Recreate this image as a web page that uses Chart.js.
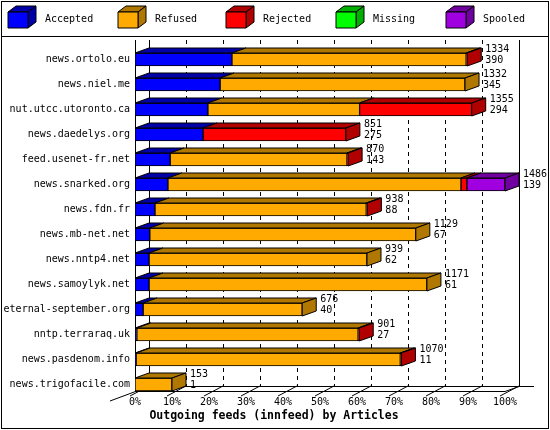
<!DOCTYPE html>
<html>
<head>
<meta charset="utf-8">
<script src="https://cdn.jsdelivr.net/npm/chart.js@4.4.1/dist/chart.umd.min.js"></script>
<style>
  html, body { margin: 0; padding: 0; background: #fff; }
  #wrap { width: 550px; height: 430px; }
</style>
</head>
<body>
<div id="wrap"><canvas id="c" width="550" height="430"></canvas></div>
<script>
// data (percent of bar width)
const hosts = ["news.ortolo.eu", "news.niel.me", "nut.utcc.utoronto.ca", "news.daedelys.org",
  "feed.usenet-fr.net", "news.snarked.org", "news.fdn.fr", "news.mb-net.net", "news.nntp4.net",
  "news.samoylyk.net", "eternal-september.org", "nntp.terraraq.uk", "news.pasdenom.info", "news.trigofacile.com"];
const accepted = [26.2, 23.0, 19.7, 18.4, 9.5, 8.9, 5.4, 4.0, 3.8, 3.8, 2.2, 0.5, 0.3, 0];
const refused  = [63.3, 66.2, 41.0, 0, 47.8, 79.2, 57.1, 71.9, 58.9, 75.1, 43.0, 59.8, 71.4, 10.0];
const rejected = [0.3, 0, 30.3, 38.6, 0.3, 1.6, 0.3, 0, 0, 0, 0, 0.3, 0.3, 0];
const missing  = [0, 0, 0, 0, 0, 0, 0, 0, 0, 0, 0, 0, 0, 0];
const spooled  = [0, 0, 0, 0, 0, 10.3, 0, 0, 0, 0, 0, 0, 0, 0];
const totalArticles = [1334, 1332, 1355, 851, 870, 1486, 938, 1129, 939, 1171, 676, 901, 1070, 153];
const secondValue   = [390, 345, 294, 275, 143, 139, 88, 67, 62, 61, 40, 27, 11, 1];
const xTicks = [0, 10, 20, 30, 40, 50, 60, 70, 80, 90, 100];

const series = [
  { label: "Accepted", data: accepted, front: "#0000ff", dark: "#0000a8" },
  { label: "Refused",  data: refused,  front: "#ffaa00", dark: "#b07800" },
  { label: "Rejected", data: rejected, front: "#ff0000", dark: "#b00000" },
  { label: "Missing",  data: missing,  front: "#00ff00", dark: "#00b000" },
  { label: "Spooled",  data: spooled,  front: "#a000e0", dark: "#7000a0" }
];

const DX = 14, DY = 5;
const FONT = "10px 'DejaVu Sans Mono', monospace";

function poly(ctx, pts, fill) {
  ctx.beginPath();
  ctx.moveTo(pts[0][0], pts[0][1]);
  for (let i = 1; i < pts.length; i++) ctx.lineTo(pts[i][0], pts[i][1]);
  ctx.closePath();
  ctx.fillStyle = fill;
  ctx.fill();
  ctx.stroke();
}

const frame = {
  id: "frame",
  beforeDatasetsDraw(chart) {
    const ctx = chart.ctx, xs = chart.scales.x;
    const x0 = xs.getPixelForValue(0), x1 = xs.getPixelForValue(100);
    const top = 40, floor = 391;
    ctx.save();
    ctx.strokeStyle = "#000";
    ctx.lineWidth = 1;
    // back grid (dashed)
    ctx.setLineDash([4, 4]);
    xTicks.slice(1, -1).forEach(v => {
      const px = Math.round(xs.getPixelForValue(v)) + DX + 0.5;
      ctx.beginPath(); ctx.moveTo(px, top); ctx.lineTo(px, floor - DY); ctx.stroke();
    });
    ctx.setLineDash([]);
    // walls
    ctx.beginPath();
    ctx.moveTo(x0 + 0.5, top); ctx.lineTo(x0 + 0.5, floor + 0.5);
    ctx.moveTo(x0 + DX + 0.5, top); ctx.lineTo(x0 + DX + 0.5, floor - DY + 0.5);
    ctx.moveTo(x1 + DX + 0.5, top); ctx.lineTo(x1 + DX + 0.5, floor - DY + 0.5);
    ctx.moveTo(x0 - 25, floor + 10); ctx.lineTo(x0 + 0.5, floor + 0.5);
    ctx.moveTo(x0, floor + 0.5); ctx.lineTo(x1, floor + 0.5);
    ctx.moveTo(x0 + DX, floor - DY + 0.5); ctx.lineTo(x1 + DX + 15, floor - DY + 0.5);
    ctx.moveTo(x1, floor + 0.5); ctx.lineTo(x1 + DX, floor - DY + 0.5);
    ctx.stroke();
    // floor ticks
    xTicks.forEach(v => {
      const px = xs.getPixelForValue(v);
      ctx.beginPath(); ctx.moveTo(px - 5, floor + 5); ctx.lineTo(px + DX, floor - DY); ctx.stroke();
    });
    ctx.restore();
  },
  afterDatasetsDraw(chart) {
    const ctx = chart.ctx, xs = chart.scales.x;
    ctx.save();
    ctx.strokeStyle = "#000";
    ctx.lineWidth = 1;
    hosts.forEach((h, i) => {
      let lastEl = null, lastSeries = null;
      series.forEach((s, di) => {
        const el = chart.getDatasetMeta(di).data[i];
        if (!s.data[i]) return;
        const l = Math.min(el.x, el.base), r = Math.max(el.x, el.base), t = el.y - el.height / 2;
        poly(ctx, [[l, t], [r, t], [r + DX, t - DY], [l + DX, t - DY]], s.dark);
        lastEl = el; lastSeries = s;
      });
      if (lastEl) {
        const r = Math.max(lastEl.x, lastEl.base), t = lastEl.y - lastEl.height / 2, b = t + lastEl.height;
        poly(ctx, [[r, t], [r + DX, t - DY], [r + DX, b - DY], [r, b]], lastSeries.dark);
        ctx.fillStyle = "#000";
        ctx.font = FONT;
        ctx.textAlign = "left";
        ctx.textBaseline = "middle";
        ctx.fillText(String(totalArticles[i]), r + DX + 4, t - 4);
        ctx.fillText(String(secondValue[i]), r + DX + 4, t + 7);
      }
      // host label
      ctx.fillStyle = "#000";
      ctx.font = FONT;
      ctx.textAlign = "right";
      ctx.textBaseline = "middle";
      const el0 = chart.getDatasetMeta(0).data[i];
      ctx.fillText(h, 130, el0.y);
    });
    // x tick labels + title
    ctx.textAlign = "center";
    ctx.textBaseline = "top";
    xTicks.forEach(v => ctx.fillText(v + "%", xs.getPixelForValue(v), 397));
    ctx.font = "bold 11.5px 'DejaVu Sans Mono', monospace";
    ctx.fillText("Outgoing feeds (innfeed) by Articles", 274, 410);
    // legend
    ctx.font = FONT;
    ctx.textAlign = "left";
    const lx = [8, 118, 226, 336, 446];
    series.forEach((s, k) => {
      const x = lx[k], y = 12;
      poly(ctx, [[x, y], [x + 20, y], [x + 20 + 8, y - 6], [x + 8, y - 6]], s.dark);
      poly(ctx, [[x + 20, y], [x + 28, y - 6], [x + 28, y + 10], [x + 20, y + 16]], s.dark);
      poly(ctx, [[x, y], [x + 20, y], [x + 20, y + 16], [x, y + 16]], s.front);
      ctx.fillStyle = "#000";
      ctx.textBaseline = "middle";
      ctx.fillText(s.label, x + 37, 19);
    });
    // outer border + separator
    ctx.strokeRect(1.5, 1.5, 547, 427);
    ctx.beginPath(); ctx.moveTo(1, 36.5); ctx.lineTo(549, 36.5); ctx.stroke();
    ctx.restore();
  }
};

new Chart(document.getElementById("c"), {
  type: "bar",
  data: {
    labels: hosts,
    datasets: series.map(s => ({
      label: s.label,
      data: s.data,
      backgroundColor: s.front,
      borderColor: "#000",
      borderWidth: 1,
      borderSkipped: false,
      barThickness: 13
    }))
  },
  options: {
    indexAxis: "y",
    responsive: false,
    animation: false,
    events: [],
    layout: { padding: { left: 135, right: 45, top: 47, bottom: 33 } },
    plugins: { legend: { display: false }, tooltip: { enabled: false } },
    scales: {
      x: { stacked: true, min: 0, max: 100, display: false },
      y: { stacked: true, display: false }
    }
  },
  plugins: [frame]
});
</script>
</body>
</html>
